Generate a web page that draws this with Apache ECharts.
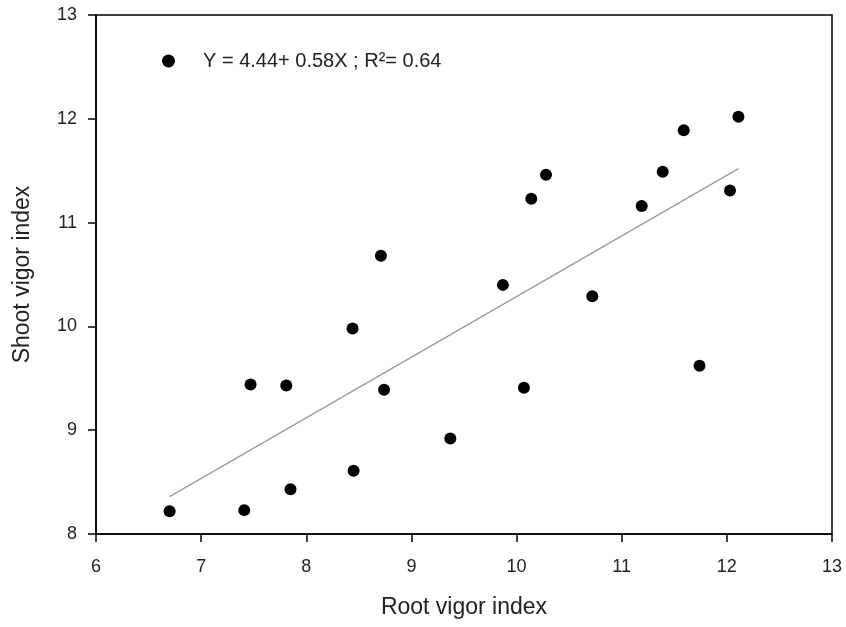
<!DOCTYPE html>
<html>
<head>
<meta charset="utf-8">
<script src="https://cdn.jsdelivr.net/npm/echarts@6/dist/echarts.min.js"></script>
<style>html,body{margin:0;padding:0;background:#fff;}#c{width:846px;height:627px;}</style>
</head>
<body>
<div id="c"></div>
<script>
var rootVigor = [6.70, 7.41, 7.47, 7.81, 7.85, 8.44, 8.45, 8.71, 8.74, 9.37, 9.87, 10.07, 10.14, 10.28, 10.72, 11.19, 11.39, 11.59, 11.74, 12.03, 12.11];
var shootVigor = [8.22, 8.23, 9.44, 9.43, 8.43, 9.98, 8.61, 10.68, 9.39, 8.92, 10.40, 9.41, 11.23, 11.46, 10.29, 11.16, 11.49, 11.89, 9.62, 11.31, 12.02];
var fitX = [6.70, 12.11];
var fitY = [8.36, 11.52];
var xTicks = [6, 7, 8, 9, 10, 11, 12, 13];
var yTicks = [8, 9, 10, 11, 12, 13];
var seriesName = 'Y = 4.44+ 0.58X ; R\u00B2= 0.64';
var xTitle = 'Root vigor index';
var yTitle = 'Shoot vigor index';

var points = rootVigor.map(function (x, i) { return [x, shootVigor[i]]; });
var fit = fitX.map(function (x, i) { return [x, fitY[i]]; });
var font = 'Arial, "Liberation Sans", sans-serif';

var chart = echarts.init(document.getElementById('c'), null, {renderer: 'canvas'});
chart.setOption({
  backgroundColor: '#fff',
  animation: false,
  grid: {left: 96, right: 14, top: 15, bottom: 93, show: true, borderColor: '#000', borderWidth: 1.5},
  legend: {
    left: 157, top: 46,
    data: [{name: seriesName, icon: 'circle'}],
    itemWidth: 13, itemHeight: 13,
    textStyle: {fontFamily: font, fontSize: 20, color: '#222', padding: [0, 0, 0, 23]}
  },
  xAxis: {
    type: 'value', min: xTicks[0], max: xTicks[xTicks.length - 1], interval: 1,
    name: xTitle, nameLocation: 'middle', nameGap: 62,
    nameTextStyle: {fontFamily: font, fontSize: 23, color: '#222'},
    axisLine: {show: true, lineStyle: {color: '#000', width: 1.5}},
    axisTick: {show: true, inside: false, length: 8, lineStyle: {color: '#000', width: 1.5}},
    axisLabel: {fontFamily: font, fontSize: 18, color: '#222', margin: 24},
    splitLine: {show: false}
  },
  yAxis: {
    type: 'value', min: yTicks[0], max: yTicks[yTicks.length - 1], interval: 1,
    name: yTitle, nameLocation: 'middle', nameGap: 62,
    nameTextStyle: {fontFamily: font, fontSize: 23, color: '#222'},
    axisLine: {show: true, lineStyle: {color: '#000', width: 1.5}},
    axisTick: {show: true, inside: false, length: 8, lineStyle: {color: '#000', width: 1.5}},
    axisLabel: {fontFamily: font, fontSize: 18, color: '#222', margin: 19},
    splitLine: {show: false}
  },
  series: [
    {
      name: seriesName, type: 'scatter', data: points,
      symbol: 'circle', symbolSize: 12,
      itemStyle: {color: '#000', opacity: 1}, z: 3
    },
    {
      name: 'fit', type: 'line', data: fit,
      symbol: 'none', lineStyle: {color: '#999', width: 1.2},
      z: 2
    }
  ]
});
</script>
</body>
</html>
